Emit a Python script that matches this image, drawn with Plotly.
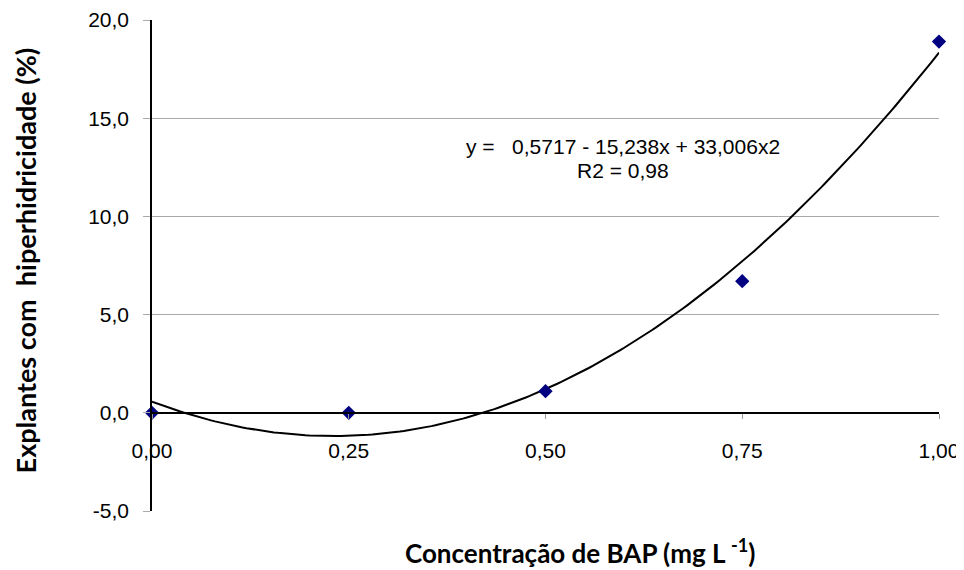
import numpy as np
import plotly.graph_objects as go

# Data
bap_conc = [0.0, 0.25, 0.50, 0.75, 1.00]
hyperhydricity_pct = [0.0, 0.0, 1.1, 6.7, 18.9]

# Quadratic trendline coefficients as printed on the chart (c0, c1, c2)
trend_coefs = [0.5717, -15.238, 33.006]
equation_line1 = "y =   0,5717 - 15,238x + 33,006x2"
equation_line2 = "R2 = 0,98"

x_ticks = [0.0, 0.25, 0.50, 0.75, 1.00]
x_tick_labels = ["0,00", "0,25", "0,50", "0,75", "1,00"]
y_ticks = [-5, 0, 5, 10, 15, 20]
y_tick_labels = ["-5,0", "0,0", "5,0", "10,0", "15,0", "20,0"]

xs = np.linspace(0, 1, 201)
ys = trend_coefs[0] + trend_coefs[1] * xs + trend_coefs[2] * xs ** 2

fig = go.Figure()
fig.add_trace(go.Scatter(x=xs, y=ys, mode="lines",
                         line=dict(color="black", width=2), hoverinfo="skip",
                         showlegend=False, cliponaxis=False))
fig.add_trace(go.Scatter(x=bap_conc, y=hyperhydricity_pct, mode="markers",
                         marker=dict(symbol="diamond", size=11, color="#000080"),
                         showlegend=False, cliponaxis=False))

# The page body has an 8px default margin, so the figure is sized to fit.
fig.update_layout(
    width=956, height=562,
    margin=dict(l=144, r=25, t=12, b=59),
    paper_bgcolor="white", plot_bgcolor="white",
    separators=",.",
    font=dict(family="Liberation Sans, Arial", size=21, color="black"),
    xaxis=dict(range=[0, 1], tickvals=x_ticks, ticktext=x_tick_labels,
               anchor="free", position=0.2, automargin=False,
               showline=True, linecolor="black", linewidth=1.5,
               ticks="outside", ticklen=5, tickcolor="#999999",
               ticklabelstandoff=14,
               showgrid=False, zeroline=False),
    yaxis=dict(range=[-5, 20], tickvals=y_ticks, ticktext=y_tick_labels,
               automargin=False,
               showline=True, linecolor="black", linewidth=1.5,
               ticks="outside", ticklen=7, tickcolor="#aaaaaa",
               showgrid=True, gridcolor="#aaaaaa", gridwidth=1,
               zeroline=False, ticklabelstandoff=10),
    annotations=[
        dict(text=equation_line1, x=0.598, y=13.55, xref="x", yref="y",
             showarrow=False, font=dict(size=21), align="center"),
        dict(text=equation_line2, x=0.598, y=12.33, xref="x", yref="y",
             showarrow=False, font=dict(size=21), align="center"),
        dict(text="<b>Concentração de BAP (mg L <sup>-1</sup>)</b>",
             x=0.544, y=-0.083, xref="paper", yref="paper", xanchor="center",
             yanchor="middle", showarrow=False,
             font=dict(family="Lato", size=26)),
        dict(text="<b>Explantes com  hiperhidricidade (%)</b>",
             x=-0.161, y=0.511, xref="paper", yref="paper", textangle=-90,
             xanchor="center", yanchor="middle", showarrow=False,
             font=dict(family="Lato", size=27)),
    ],
)

fig.write_html("out.html")
